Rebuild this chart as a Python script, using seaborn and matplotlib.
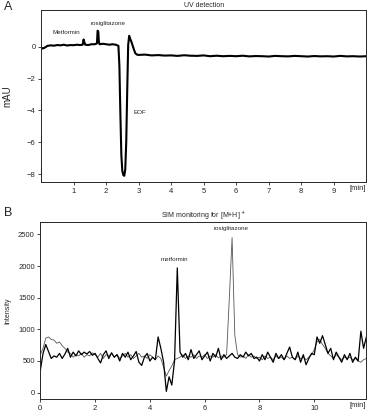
import numpy as np
import pandas as pd
import matplotlib
matplotlib.use("Agg")
import matplotlib.pyplot as plt
import seaborn as sns

# --- panel A: UV trace (time in min, absorbance in mAU) ---
uv_time = [0.0, 0.05, 0.1, 0.15, 0.2, 0.3, 0.4, 0.5, 0.6, 0.7, 0.8, 0.9, 1.0, 1.1, 1.2,
           1.28, 1.31, 1.33, 1.36, 1.45, 1.55, 1.65, 1.72, 1.74, 1.76, 1.78, 1.8, 1.9,
           2.0, 2.1, 2.2, 2.3, 2.38, 2.41, 2.44, 2.47, 2.5, 2.53, 2.56, 2.59, 2.62, 2.65,
           2.68, 2.71, 2.74, 2.78, 2.82, 2.86, 2.9, 2.95,
           3.0, 3.2, 3.4, 3.6, 3.8, 4.0, 4.2, 4.4, 4.6, 4.8, 5.0, 5.2, 5.4, 5.6, 5.8,
           6.0, 6.2, 6.4, 6.6, 6.8, 7.0, 7.2, 7.4, 7.6, 7.8, 8.0, 8.2, 8.4, 8.6, 8.8,
           9.0, 9.2, 9.4, 9.6, 9.8, 10.0]
uv_mau = [-0.05, -0.12, -0.08, -0.02, 0.05, 0.08, 0.06, 0.1, 0.08, 0.12, 0.07, 0.1, 0.09, 0.12, 0.1,
          0.12, 0.45, 0.3, 0.12, 0.1, 0.15, 0.15, 0.2, 1.0, 0.95, 0.3, 0.15, 0.18,
          0.15, 0.12, 0.15, 0.12, 0.05, -1.2, -4.2, -6.8, -7.8, -8.05, -8.1, -7.7, -6.0, -2.8,
          0.1, 0.68, 0.5, 0.3, 0.05, -0.2, -0.42, -0.5,
          -0.52, -0.5, -0.55, -0.53, -0.56, -0.55, -0.58, -0.54, -0.57, -0.58, -0.55, -0.6, -0.57, -0.6, -0.58,
          -0.6, -0.57, -0.61, -0.59, -0.6, -0.62, -0.58, -0.6, -0.61, -0.58, -0.6, -0.62, -0.59, -0.61, -0.6,
          -0.62, -0.58, -0.61, -0.6, -0.62, -0.6]

# --- panel B: SIM traces, sampled every 0.1 min from 0 to 11.9 ---
sim_time = [round(0.1 * i, 1) for i in range(120)]
sim_metformin = [350, 620, 760, 650, 540, 580, 560, 620, 540, 610,
                 700, 560, 640, 580, 660, 600, 640, 610, 650, 590,
                 620, 540, 470, 600, 660, 540, 630, 560, 600, 500,
                 620, 560, 640, 520, 580, 650, 480, 430, 560, 620,
                 500, 560, 520, 880, 700, 480, 20, 250, 120, 500,
                 1970, 640, 560, 620, 520, 680, 540, 600, 660, 520,
                 580, 640, 500, 620, 560, 700, 520, 600, 540, 580,
                 620, 560, 540, 600, 560, 640, 580, 620, 540, 560,
                 500, 600, 520, 640, 560, 480, 620, 540, 600, 520,
                 620, 720, 560, 520, 640, 480, 600, 440, 540, 620,
                 600, 880, 780, 900, 760, 620, 700, 520, 640, 560,
                 480, 600, 520, 620, 480, 560, 500, 970, 700, 880]
sim_rosiglitazone = [600, 700, 860, 880, 840, 830, 780, 800, 740, 700,
                     640, 620, 560, 600, 580, 620, 560, 600, 580, 630,
                     600, 560, 620, 540, 600, 580, 620, 560, 600, 540,
                     580, 620, 560, 600, 540, 580, 620, 560, 580, 540,
                     600, 560, 520, 580, 540, 400, 260, 350, 420, 520,
                     540, 560, 600, 540, 580, 560, 600, 540, 580, 560,
                     600, 540, 580, 560, 600, 550, 580, 560, 600, 1500,
                     2450, 900, 600, 560, 580, 540, 600, 560, 580, 540,
                     560, 520, 580, 540, 560, 520, 580, 540, 560, 520,
                     580, 540, 560, 520, 580, 540, 560, 520, 560, 600,
                     680, 800, 840, 760, 700, 620, 580, 540, 600, 560,
                     520, 560, 540, 560, 520, 540, 500, 480, 520, 540]

uv = pd.DataFrame({"t": uv_time, "mAU": uv_mau})
sim = pd.DataFrame({"t": sim_time, "met": sim_metformin, "rosi": sim_rosiglitazone})

sns.set_style("ticks")
plt.rcParams["font.family"] = ["Liberation Sans", "DejaVu Sans"]
plt.rcParams["xtick.major.size"] = 2
plt.rcParams["ytick.major.size"] = 2
plt.rcParams["xtick.major.width"] = 0.6
plt.rcParams["ytick.major.width"] = 0.6

fig = plt.figure(figsize=(3.68, 4.15), dpi=100)
ax_a = fig.add_axes([0.1114, 0.561, 0.884, 0.415])
ax_b = fig.add_axes([0.1095, 0.0386, 0.886, 0.4272])

# panel A
sns.lineplot(data=uv, x="t", y="mAU", ax=ax_a, color="black", linewidth=1.5)
ax_a.set_xlim(0, 10)
ax_a.set_ylim(-8.5, 2.3)
ax_a.set_xticks(range(1, 10))
ax_a.set_yticks([0, -2, -4, -6, -8])
ax_a.set_xlabel("")
ax_a.set_ylabel("mAU", fontsize=7, labelpad=10)
ax_a.set_title("UV detection", fontsize=5, pad=2)
ax_a.text(0.79, 0.86, "Metformin", fontsize=4.5, ha="center", va="center")
ax_a.text(2.06, 1.45, "rosiglitazone", fontsize=4.5, ha="center", va="center")
ax_a.text(3.05, -4.1, "EOF", fontsize=4.5, ha="center", va="center")

# panel B
sns.lineplot(data=sim, x="t", y="rosi", ax=ax_b, color="#555555", linewidth=0.6)
sns.lineplot(data=sim, x="t", y="met", ax=ax_b, color="black", linewidth=0.9)
ax_b.set_xlim(0, 11.9)
ax_b.set_ylim(-100, 2700)
ax_b.set_xticks([0, 2, 4, 6, 8, 10])
ax_b.set_yticks([0, 500, 1000, 1500, 2000, 2500])
ax_b.set_xlabel("")
ax_b.set_ylabel("Intensity", fontsize=5, labelpad=5)
ax_b.set_title("SIM monitoring for [M+H]$^+$", fontsize=5, pad=2)
ax_b.text(4.9, 2100, "metformin", fontsize=4.5, ha="center", va="center")
ax_b.text(6.97, 2600, "rosiglitazone", fontsize=4.5, ha="center", va="center")

for ax in (ax_a, ax_b):
    ax.tick_params(labelsize=5.5, pad=2)
    for s in ax.spines.values():
        s.set_linewidth(0.7)
        s.set_visible(True)
    ax.annotate("[min]", xy=(0.975, 0), xycoords="axes fraction", xytext=(0, -2),
                textcoords="offset points", ha="center", va="top", fontsize=5.5)

fig.text(0.012, 0.983, "A", fontsize=9, va="center")
fig.text(0.012, 0.487, "B", fontsize=9, va="center")

fig.savefig("out.png", dpi=100, facecolor="white")
